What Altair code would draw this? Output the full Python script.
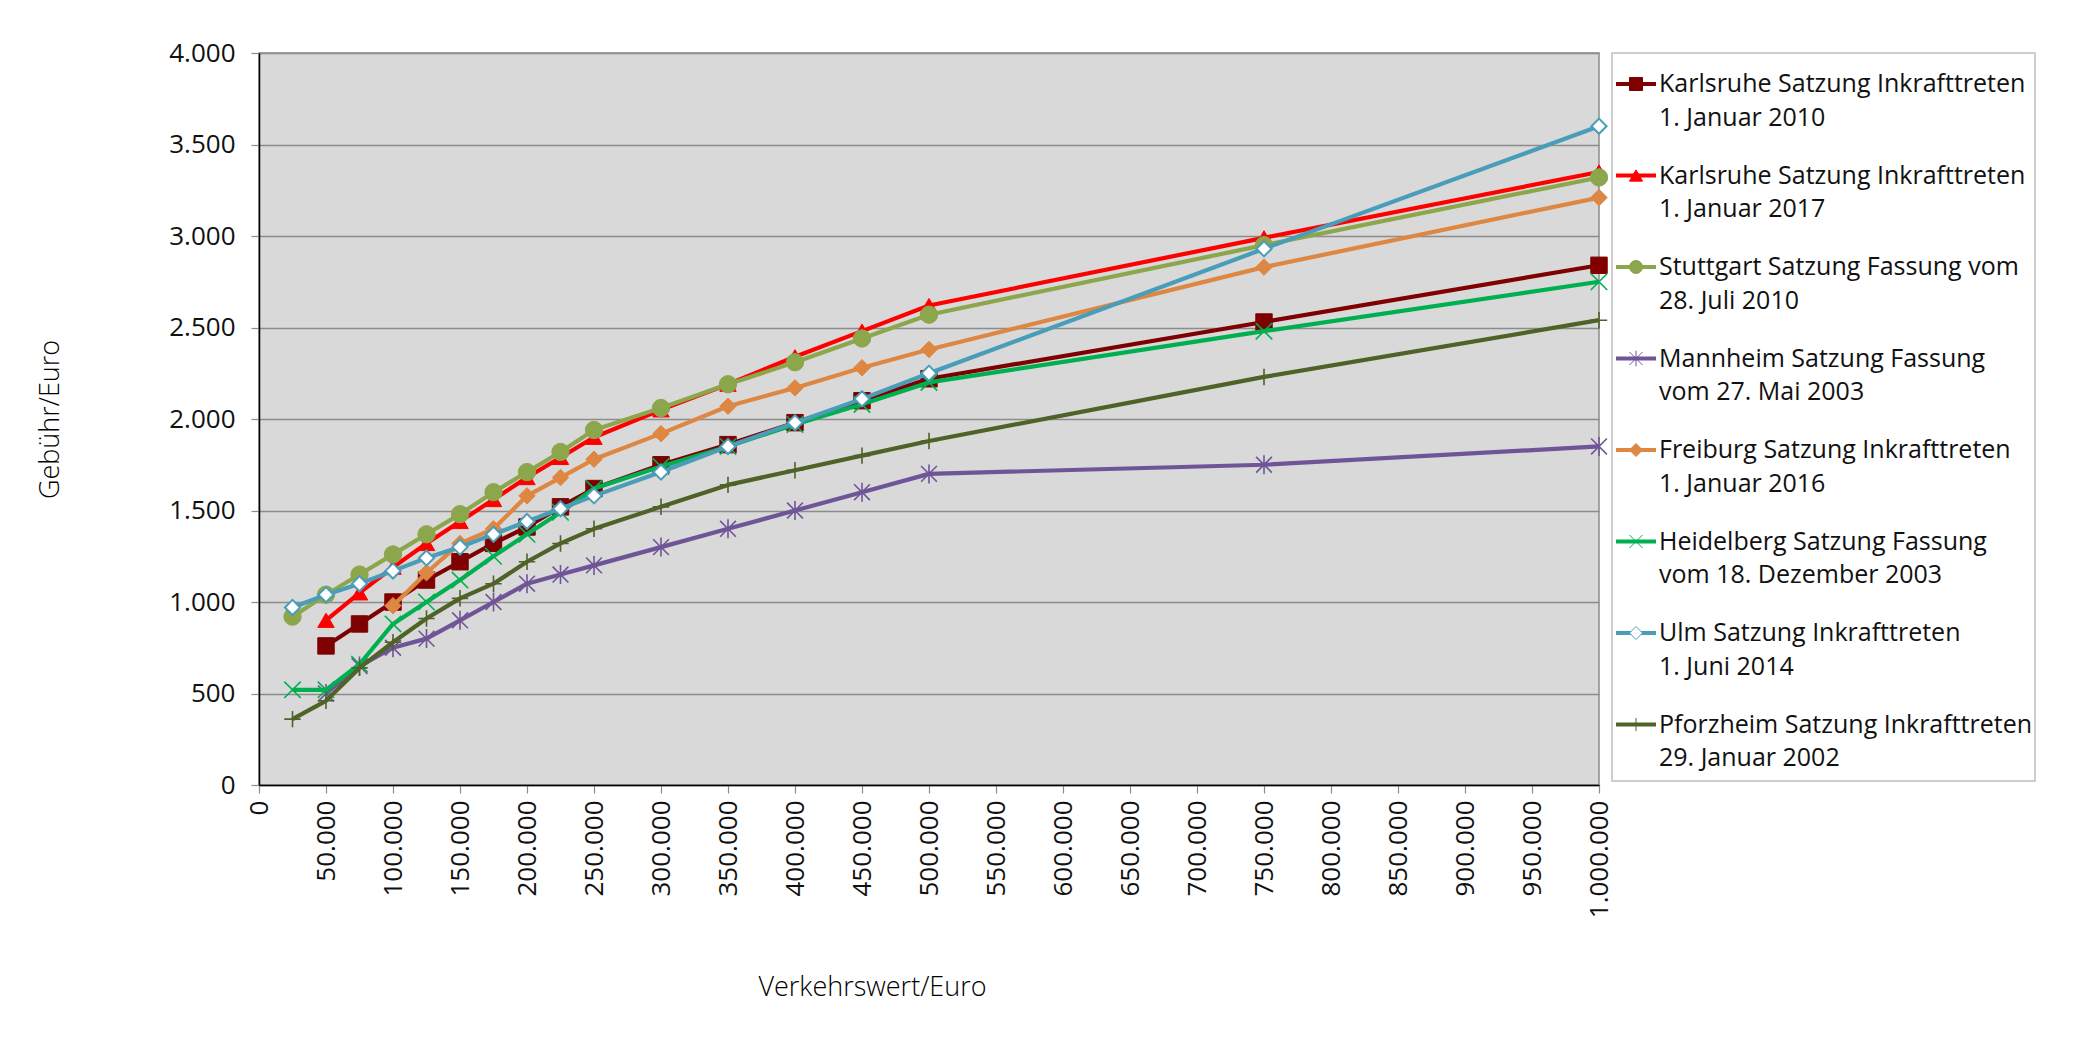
import altair as alt
import pandas as pd

# ---------------- data ----------------
x_values = [25000, 50000, 75000, 100000, 125000, 150000, 175000, 200000, 225000,
            250000, 300000, 350000, 400000, 450000, 500000, 750000, 1000000]

series_names = ["Karlsruhe 2010", "Karlsruhe 2017", "Stuttgart", "Mannheim",
                "Freiburg", "Heidelberg", "Ulm", "Pforzheim"]
legend_line1 = ["Karlsruhe Satzung Inkrafttreten", "Karlsruhe Satzung Inkrafttreten",
                "Stuttgart Satzung Fassung vom", "Mannheim Satzung Fassung",
                "Freiburg Satzung Inkrafttreten", "Heidelberg Satzung Fassung",
                "Ulm Satzung Inkrafttreten", "Pforzheim Satzung Inkrafttreten"]
legend_line2 = ["1. Januar 2010", "1. Januar 2017", "28. Juli 2010", "vom 27. Mai 2003",
                "1. Januar 2016", "vom 18. Dezember 2003", "1. Juni 2014", "29. Januar 2002"]

karlsruhe_2010 = [None, 760, 880, 1000, 1120, 1220, 1320, 1410, 1520, 1620, 1750, 1860, 1980, 2100, 2220, 2530, 2840]
karlsruhe_2017 = [None, 900, 1050, 1190, 1320, 1440, 1560, 1680, 1790, 1900, 2050, 2190, 2340, 2480, 2620, 2990, 3350]
stuttgart = [920, 1040, 1150, 1260, 1370, 1480, 1600, 1710, 1820, 1940, 2060, 2190, 2310, 2440, 2570, 2950, 3320]
mannheim = [None, 500, 650, 750, 800, 900, 1000, 1100, 1150, 1200, 1300, 1400, 1500, 1600, 1700, 1750, 1850]
freiburg = [None, None, None, 980, 1160, 1320, 1400, 1580, 1680, 1780, 1920, 2070, 2170, 2280, 2380, 2830, 3210]
heidelberg = [520, 520, 660, 880, 1000, 1120, 1250, 1370, 1490, 1620, 1740, 1850, 1970, 2080, 2200, 2480, 2750]
ulm = [970, 1040, 1100, 1170, 1240, 1300, 1370, 1440, 1510, 1580, 1710, 1850, 1980, 2110, 2250, 2930, 3600]
pforzheim = [360, 460, 640, 780, 910, 1020, 1100, 1220, 1320, 1400, 1520, 1640, 1720, 1800, 1880, 2230, 2540]

series_values = [karlsruhe_2010, karlsruhe_2017, stuttgart, mannheim,
                 freiburg, heidelberg, ulm, pforzheim]

# ---------------- styles ----------------
line_colors = ["#7F0000", "#FF0000", "#8BA64B", "#6F5597", "#DE8742", "#00B050", "#4A9DB8", "#4F6228"]
ASTERISK = "M-1,-1L1,1M-1,1L1,-1M0,-1.2L0,1.2"
XMARK = "M-1,-1L1,1M-1,1L1,-1"
PLUS = "M-1,0L1,0M0,-1L0,1"
shapes = ["square", "triangle-up", "circle", ASTERISK, "diamond", XMARK, "diamond", PLUS]
fills = ["#7F0000", "#FF0000", "#8BA64B", "transparent", "#DE8742", "transparent", "#FFFFFF", "transparent"]
strokes = ["#7F0000", "#FF0000", "#8BA64B", "#6F5597", "#DE8742", "#00B050", "#4A9DB8", "#4F6228"]
stroke_widths = [1, 1, 1, 1.6, 1, 1.6, 2, 1.6]
sizes = [270, 270, 300, 250, 270, 270, 230, 270]

FONT = "Open Sans"
TITLE_FONT = "Open Sans"

records = []
for name, vals in zip(series_names, series_values):
    for xv, yv in zip(x_values, vals):
        if yv is not None:
            records.append({"Verkehrswert": xv, "Gebuehr": yv, "Serie": name})
df = pd.DataFrame(records)

de_fmt = "replace(replace(format(datum.value, ','), ',', '.'), ',', '.')"

x_enc = alt.X(
    "Verkehrswert:Q",
    scale=alt.Scale(domain=[0, 1000000], nice=False, zero=True),
    axis=alt.Axis(
        values=list(range(0, 1000001, 50000)),
        labelExpr=de_fmt,
        labelAngle=-90,
        labelFont=FONT, labelFontSize=26, labelColor="#111111",
        labelPadding=7, labelFlush=False, labelOverlap=False,
        tickSize=8, tickColor="#8C8C8C", tickWidth=1.2,
        domainColor="#000000", domainWidth=1.5,
        grid=False,
        title="Verkehrswert/Euro",
        titleFont=TITLE_FONT, titleFontSize=27, titleFontWeight=300, titleColor="#000000",
        titleX=613, titleY=202, titleBaseline="middle", titleAlign="center",
    ),
)
y_enc = alt.Y(
    "Gebuehr:Q",
    scale=alt.Scale(domain=[0, 4000], nice=False),
    axis=alt.Axis(
        values=list(range(0, 4001, 500)),
        labelExpr=de_fmt,
        labelFont=FONT, labelFontSize=26, labelColor="#111111",
        labelPadding=16, labelFlush=False,
        tickSize=8, tickColor="#8C8C8C", tickWidth=1.2,
        domainColor="#000000", domainWidth=1.5,
        grid=True, gridColor="#8C8C8C", gridWidth=1.3,
        title="Gebühr/Euro",
        titleFont=TITLE_FONT, titleFontSize=27, titleFontWeight=300, titleColor="#000000",
        titleX=-209, titleY=366, titleBaseline="middle", titleAlign="center", titleAngle=-90,
    ),
)

main_layers = []
for i, name in enumerate(series_names):
    sub = df[df["Serie"] == name]
    base = alt.Chart(sub)
    main_layers.append(
        base.mark_line(color=line_colors[i], strokeWidth=4.2, strokeJoin="round").encode(x=x_enc, y=y_enc)
    )
    main_layers.append(
        base.mark_point(shape=shapes[i], size=sizes[i], filled=True, fill=fills[i],
                        stroke=strokes[i], strokeWidth=stroke_widths[i], opacity=1)
        .encode(x=x_enc, y=y_enc)
    )
main = alt.layer(*main_layers)

# ---------------- legend (own index scale) ----------------
leg_df = pd.DataFrame({
    "idx": list(range(len(series_names))),
    "Serie": series_names,
    "z1": legend_line1,
    "z2": legend_line2,
})
leg_y = alt.Y("idx:Q", scale=alt.Scale(domain=[0, 8], range=[31, 763], nice=False, zero=False), axis=None)
color_scale = alt.Scale(domain=series_names, range=line_colors)

box = alt.Chart(pd.DataFrame({"b": [0]})).mark_rect(
    fill="#FFFFFF", stroke="#BFBFBF", strokeWidth=1.5
).encode(x=alt.value(1353), x2=alt.value(1776), y=alt.value(0), y2=alt.value(728))

leg_base = alt.Chart(leg_df)
leg_lines = leg_base.mark_rule(strokeWidth=4).encode(
    x=alt.value(1357), x2=alt.value(1397), y=leg_y,
    color=alt.Color("Serie:N", scale=color_scale, legend=None),
)
leg_points = leg_base.mark_point(opacity=1, filled=True, size=170).encode(
    x=alt.value(1377), y=leg_y,
    shape=alt.Shape("Serie:N", scale=alt.Scale(domain=series_names, range=shapes), legend=None),
    fill=alt.Fill("Serie:N", scale=alt.Scale(domain=series_names, range=fills), legend=None),
    stroke=alt.Stroke("Serie:N", scale=alt.Scale(domain=series_names, range=strokes), legend=None),
    strokeWidth=alt.StrokeWidth("Serie:N", scale=alt.Scale(domain=series_names, range=stroke_widths), legend=None),
)
leg_text1 = leg_base.mark_text(align="left", baseline="middle", font=FONT, fontSize=25, color="#111111").encode(
    x=alt.value(1400), y=leg_y, text="z1:N")
leg_text2 = leg_base.mark_text(align="left", baseline="middle", font=FONT, fontSize=25, color="#111111", dy=33.5).encode(
    x=alt.value(1400), y=leg_y, text="z2:N")

legend = alt.layer(box, leg_lines, leg_points, leg_text1, leg_text2)

chart = alt.layer(main, legend).resolve_scale(
    y="independent"
).properties(
    width=1340, height=732,
    autosize=alt.AutoSizeParams(type="none"),
    padding={"left": 251, "top": 45, "right": 489, "bottom": 235},
    background="#FFFFFF",
).configure_view(
    fill="#D9D9D9", stroke="#8C8C8C", strokeWidth=1.5
)

chart.save("out.html", embed_options={"renderer": "svg", "actions": False})
